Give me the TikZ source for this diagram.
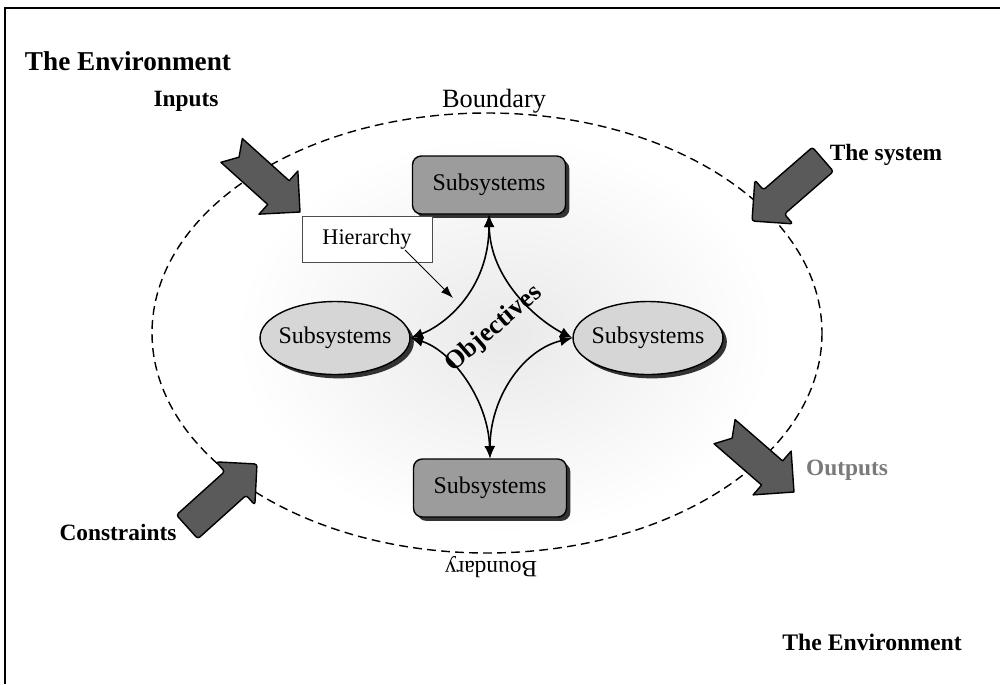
\documentclass[tikz,border=0pt]{standalone}
\usepackage{fontspec}
\setmainfont{Liberation Serif}
\usetikzlibrary{arrows.meta,shadows,calc,shapes.geometric}
\definecolor{boxgray}{HTML}{9C9C9C}
\definecolor{ellgray}{HTML}{D6D6D6}
\definecolor{arrowgray}{HTML}{5A5A5A}
\definecolor{outgray}{HTML}{7A7A7A}
\tikzset{
  arrownotch/.pic={\draw[fill=arrowgray,line width=0.8pt,line join=round]
     (0,0) -- (-29,29) -- (-29,16) -- (-92,16) -- (-82,0) -- (-92,-16) -- (-29,-16) -- (-29,-29) -- cycle;},
  arrowflat/.pic={\draw[fill=arrowgray,line width=0.8pt,line join=round,rounded corners=1.5pt]
     (0,0) -- (-29,29) -- (-29,16) -- (-94,16) -- (-94,-16) -- (-29,-16) -- (-29,-29) -- cycle;}
}
\begin{document}
\begin{tikzpicture}[x=0.02cm,y=-0.02cm,
  lbl/.style={font=\fontsize{13.3}{15}\selectfont\bfseries,inner sep=0pt},
  envlbl/.style={font=\fontsize{15.5}{17}\selectfont\bfseries,inner sep=0pt},
  bndlbl/.style={font=\fontsize{15}{17}\selectfont,inner sep=0pt},
  subbox/.style={draw=black,line width=0.8pt,rounded corners=5pt,fill=boxgray,
     minimum width=3.06cm,minimum height=1.16cm,inner sep=0pt,
     font=\fontsize{13.6}{16}\selectfont,
     drop shadow={shadow xshift=2.2pt,shadow yshift=-2.2pt,fill=black!80,opacity=1}},
  subell/.style={ellipse,draw=black,line width=0.8pt,fill=ellgray,
     minimum width=3cm,minimum height=1.46cm,inner xsep=-4pt,inner ysep=0pt,
     font=\fontsize{13.6}{16}\selectfont,
     drop shadow={shadow xshift=2.2pt,shadow yshift=-2.2pt,fill=black!80,opacity=1}},
  hierbox/.style={draw=black!70,line width=0.5pt,fill=white,
     minimum width=2.6cm,minimum height=0.92cm,inner sep=0pt,
     font=\fontsize{12.7}{15}\selectfont},
  biarrow/.style={{Latex[length=7pt,width=6pt]}-{Latex[length=7pt,width=6pt]},line width=0.9pt}
]
\useasboundingbox (0,0) rectangle (1000,684);
% frame
\draw[line width=1.1pt] (5,684) -- (5,8) -- (1000,8);
% background cloud
\shade[inner color=gray!17,middle color=gray!12,outer color=white] (505,335) ellipse [x radius=270,y radius=200];
% boundary
\draw[dashed,dash pattern=on 5pt off 3pt,line width=0.8pt] (487,333) ellipse [x radius=335,y radius=220];
% labels
\node[envlbl] (env1) at (128,61) {The Environment};
\node[lbl,font=\fontsize{13.5}{15}\selectfont\bfseries] (env2) at (872,642) {The Environment};
\node[bndlbl] (bnd1) at (494,101) {Boundary};
\node[bndlbl,font=\fontsize{13.3}{15}\selectfont,rotate=180] (bnd2) at (491,567) {Boundary};
\node[lbl] (inputs) at (186,101) {Inputs};
\node[lbl] (system) at (886,155) {The system};
\node[lbl,text=outgray] (outputs) at (847,470) {Outputs};
\node[lbl] (constr) at (118,532) {Constraints};
% block arrows
\pic[rotate=-42] at (300,212) {arrownotch};
\pic[rotate=-139] at (752,221) {arrowflat};
\pic[rotate=-41] at (794,492) {arrownotch};
\pic[rotate=42] at (257,464) {arrowflat};
% subsystems
\node[subbox] (top) at (489,185) {Subsystems};
\node[subbox] (bot) at (490,488) {Subsystems};
\node[subell] (left) at (335,338) {Subsystems};
\node[subell] (right) at (648,338) {Subsystems};
% hierarchy
\node[hierbox] (hier) at (367,239) {Hierarchy};
\coordinate (htip) at (453,298);
\draw[-{Latex[length=7pt,width=5pt]},line width=0.6pt] ([shift={(38,11)}]hier.center) -- (htip);
% objectives star
\draw[biarrow] (top.south) .. controls ($(top.south)+(0,75)$) and ($(left.east)+(34,-13)$) .. (left.east);
\draw[biarrow] (top.south) .. controls ($(top.south)+(1,65)$) and ($(right.west)+(-35,-18)$) .. (right.west);
\draw[biarrow] (left.east) .. controls ($(left.east)+(40,12)$) and ($(bot.north)+(-2,-60)$) .. (bot.north);
\draw[biarrow] (right.west) .. controls ($(right.west)+(-50,12)$) and ($(bot.north)+(0,-60)$) .. (bot.north);
\node[font=\fontsize{15}{17}\selectfont\bfseries,rotate=41,inner sep=0pt] (obj) at (494,329) {Objectives};
\end{tikzpicture}
\end{document}
